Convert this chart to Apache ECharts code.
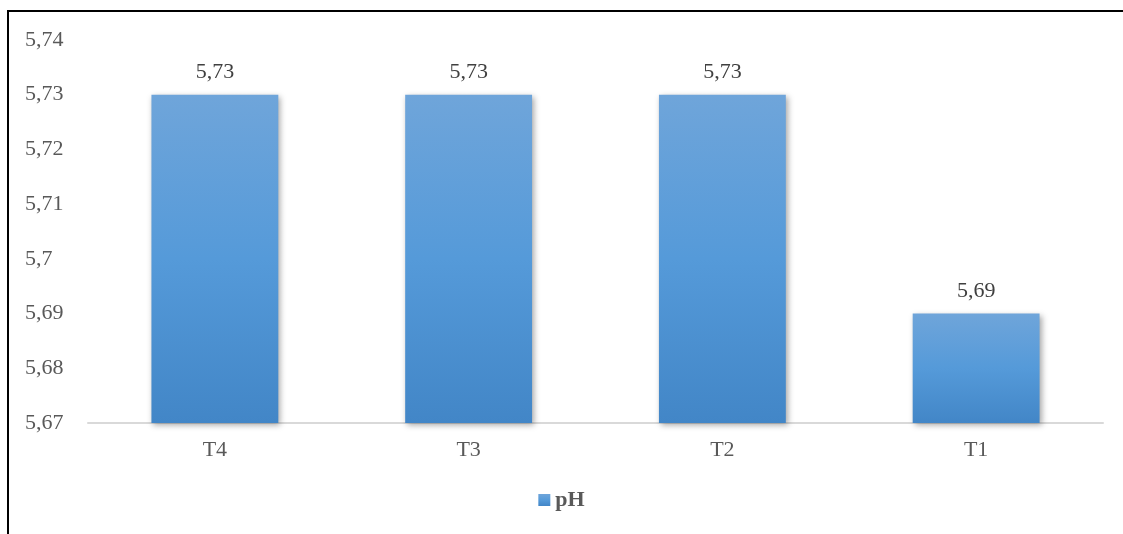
<!DOCTYPE html>
<html>
<head>
<meta charset="utf-8">
<script src="https://cdn.jsdelivr.net/npm/echarts@6/dist/echarts.min.js"></script>
<style>
  html, body { margin: 0; padding: 0; background: #ffffff; }
  #chart { width: 1123px; height: 534px; }
</style>
</head>
<body>
<div id="chart"></div>
<script>
// pH per treatment
const categories = ['T4', 'T3', 'T2', 'T1'];
const phValues = [5.73, 5.73, 5.73, 5.69];
const seriesName = 'pH';

const yMin = 5.67;
const yMax = 5.74;
const yStep = 0.01;

const fmt = v => {
  const r = Math.round(v * 100) / 100;
  return String(r).replace('.', ',');
};

const fontFamily = '"Liberation Serif", "Times New Roman", serif';
const textColor = '#595959';

const chart = echarts.init(document.getElementById('chart'), null, { renderer: 'canvas' });

chart.setOption({
  animation: false,
  backgroundColor: '#ffffff',
  textStyle: { fontFamily: fontFamily },
  grid: { left: 88, right: 20, top: 40, bottom: 111, containLabel: false },
  legend: {
    bottom: 18,
    left: 'center',
    itemWidth: 12,
    itemHeight: 12,
    itemGap: 6,
    icon: 'rect',
    textStyle: { fontFamily: fontFamily, fontSize: 22, fontWeight: 'bold', color: textColor },
    data: [seriesName]
  },
  xAxis: {
    type: 'category',
    data: categories,
    axisLine: { show: true, lineStyle: { color: '#d9d9d9', width: 2 } },
    axisTick: { show: false },
    axisLabel: { fontFamily: fontFamily, fontSize: 22, color: textColor, margin: 16 }
  },
  yAxis: {
    type: 'value',
    min: yMin,
    max: yMax,
    interval: yStep,
    splitLine: { show: false },
    axisLine: { show: false },
    axisTick: { show: false },
    axisLabel: {
      fontFamily: fontFamily, fontSize: 22, color: textColor,
      align: 'left', margin: 63,
      formatter: fmt
    }
  },
  series: [{
    name: seriesName,
    type: 'bar',
    data: phValues,
    barWidth: '50%',
    itemStyle: {
      color: new echarts.graphic.LinearGradient(0, 0, 0, 1, [
        { offset: 0, color: '#6fa5da' },
        { offset: 0.5, color: '#559ad9' },
        { offset: 1, color: '#4286c7' }
      ]),
      shadowColor: 'rgba(0,0,0,0.35)',
      shadowBlur: 6,
      shadowOffsetX: 2,
      shadowOffsetY: 2
    },
    label: {
      show: true,
      position: 'top',
      distance: 11,
      fontFamily: fontFamily,
      fontSize: 22,
      color: '#404040',
      formatter: p => fmt(p.value)
    }
  }],
  graphic: [
    { type: 'line', shape: { x1: 8, y1: 11, x2: 1123, y2: 11 }, style: { stroke: '#000000', lineWidth: 2 } },
    { type: 'line', shape: { x1: 8, y1: 10, x2: 8, y2: 534 }, style: { stroke: '#000000', lineWidth: 2 } }
  ]
});
</script>
</body>
</html>
